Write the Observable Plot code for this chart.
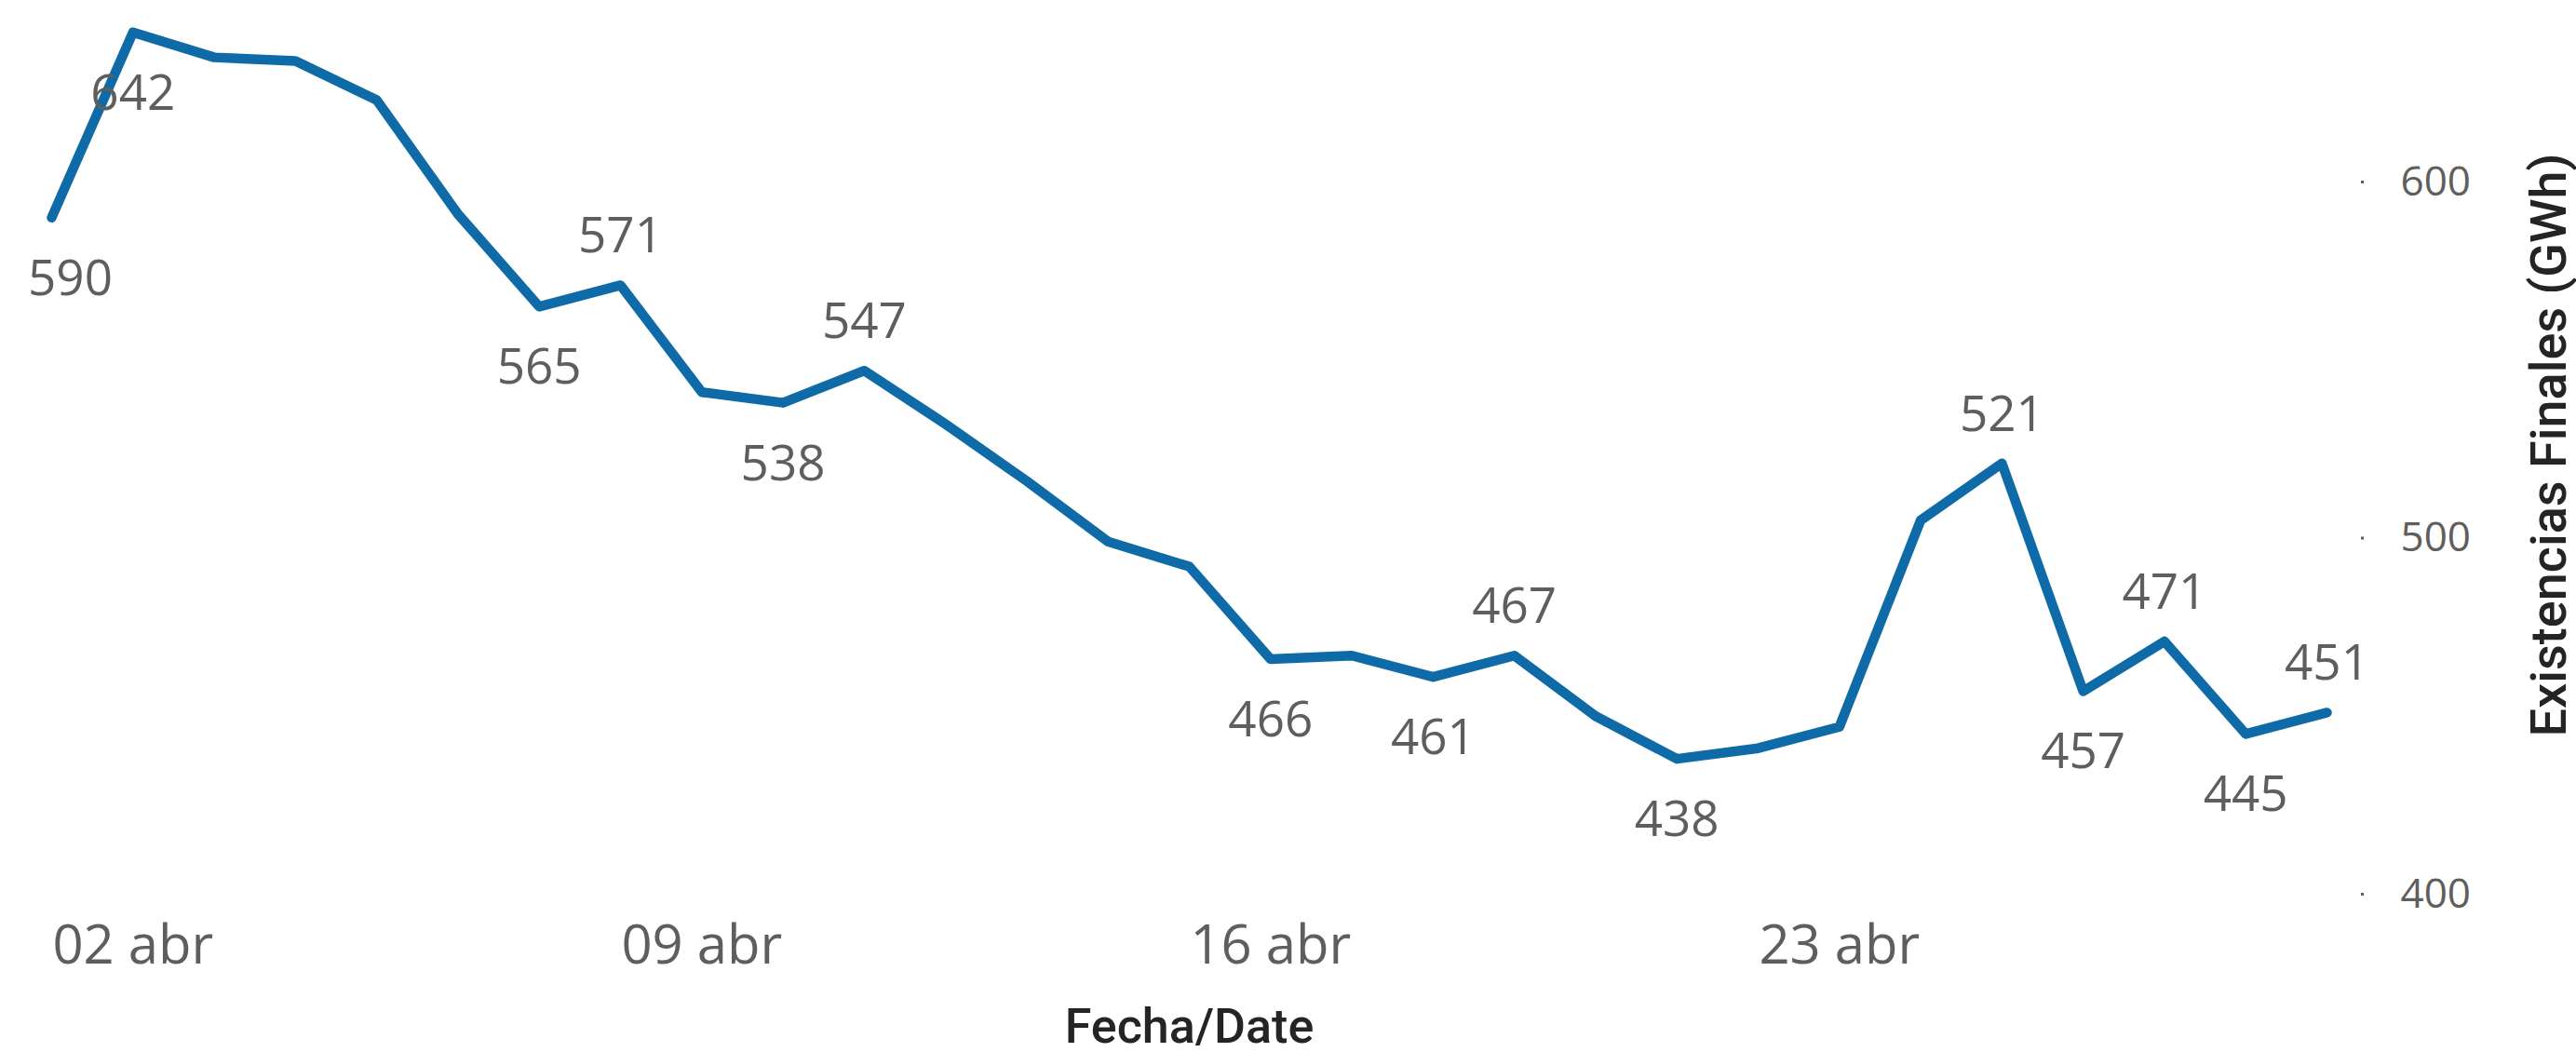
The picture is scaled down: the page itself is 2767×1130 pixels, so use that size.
<!DOCTYPE html>
<html>
<head>
<meta charset="utf-8">
<script src="https://cdn.jsdelivr.net/npm/d3@7"></script>
<script src="https://cdn.jsdelivr.net/npm/@observablehq/plot@0.6"></script>
<style>
  html, body { margin: 0; padding: 0; background: #ffffff; }
  #chart svg { display: block; }
</style>
</head>
<body>
<div id="chart"></div>
<script>
// ---- Data ----
const days = [1,2,3,4,5,6,7,8,9,10,11,12,13,14,15,16,17,18,19,20,21,22,23,24,25,26,27,28,29];
const values = [590,642,635,634,623,591,565,571,541,538,547,532,516,499,492,466,467,461,467,450,438,441,447,505,521,457,471,445,451];
const labelAboveDays = [8, 11, 19, 25, 27, 29];
const labelBelowDays = [2, 7, 10, 16, 18, 21, 26, 28];
const labelFirstDays = [1];
const xTickDays = [2, 9, 16, 23];
const yTicks = [400, 500, 600];
const monthLabel = "abr";
const xTitle = "Fecha/Date";
const yTitle = "Existencias Finales (GWh)";

const toDate = d => new Date(Date.UTC(2024, 3, d));
const data = days.map((d, i) => ({date: toDate(d), value: values[i], day: d}));
const pick = list => data.filter(r => list.includes(r.day));

const labelColor = "#605E5C";
const titleColor = "#252423";
const lineColor = "#0E6BA8";

const chart = Plot.plot({
  width: 2767,
  height: 1130,
  marginTop: 195,
  marginBottom: 170,
  marginLeft: 55,
  marginRight: 268,
  style: {fontFamily: "'Open Sans', 'Noto Sans', sans-serif", background: "#ffffff", overflow: "visible"},
  x: {type: "utc", domain: [toDate(days[0]), toDate(days[days.length - 1])]},
  y: {domain: [400, 600]},
  marks: [
    Plot.axisX({
      ticks: xTickDays.map(toDate),
      tickFormat: d => d3.utcFormat("%d")(d) + " " + monthLabel,
      tickSize: 0,
      tickPadding: 33,
      fontSize: 58,
      fill: labelColor,
      label: null
    }),
    Plot.axisY({
      anchor: "right",
      ticks: yTicks,
      tickSize: 3,
      strokeWidth: 3,
      stroke: labelColor,
      dx: 36,
      tickPadding: 40,
      fontSize: 44,
      fill: labelColor,
      label: null
    }),
    Plot.line(data, {
      x: "date", y: "value",
      stroke: lineColor, strokeWidth: 10.5,
      strokeLinecap: "round", strokeLinejoin: "round"
    }),
    Plot.text(pick(labelAboveDays), {
      x: "date", y: "value", text: d => String(d.value),
      dy: -52, fontSize: 53, fill: labelColor
    }),
    Plot.text(pick(labelBelowDays), {
      x: "date", y: "value", text: d => String(d.value),
      dy: 66, fontSize: 53, fill: labelColor
    }),
    Plot.text(pick(labelFirstDays), {
      x: "date", y: "value", text: d => String(d.value),
      dy: 66, dx: 20, fontSize: 53, fill: labelColor
    }),
    Plot.text([xTitle], {
      frameAnchor: "bottom", dy: 143,
      textAnchor: "middle", lineAnchor: "middle",
      fontSize: 52, fontWeight: 500, fill: titleColor,
      fontFamily: "Roboto, sans-serif"
    }),
    Plot.text([yTitle], {
      frameAnchor: "right", rotate: -90, dx: 239, dy: -100,
      textAnchor: "middle", lineAnchor: "middle",
      fontSize: 54, fontWeight: 500, fill: titleColor,
      fontFamily: "Roboto, sans-serif"
    })
  ]
});

document.getElementById("chart").appendChild(chart);
</script>
</body>
</html>
